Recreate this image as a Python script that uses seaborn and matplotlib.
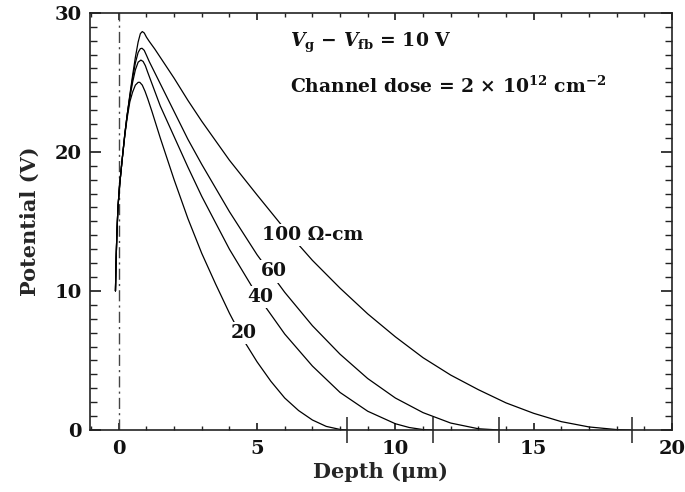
import numpy as np
import pandas as pd
import matplotlib
matplotlib.use("Agg")
import matplotlib.pyplot as plt
import seaborn as sns
from matplotlib.ticker import MultipleLocator

# --- data ---
x_100 = [-0.12, -0.1, -0.07, -0.03, 0.03, 0.12, 0.22, 0.3, 0.4, 0.5, 0.6, 0.7, 0.78, 0.85,
         0.92, 1.0, 1.1, 1.3, 1.6, 2.0, 2.5, 3.0, 4.0, 5.0, 6.0, 7.0, 8.0, 9.0, 10.0, 11.0,
         12.0, 13.0, 14.0, 15.0, 16.0, 17.0, 18.0, 18.5]
y_100 = [10.0, 12.0, 14.0, 16.0, 17.6, 19.4, 21.3, 22.6, 24.1, 25.5, 26.8, 27.9, 28.5, 28.65,
         28.55, 28.25, 27.95, 27.4, 26.5, 25.3, 23.7, 22.2, 19.4, 16.9, 14.45, 12.2, 10.2,
         8.35, 6.7, 5.2, 3.95, 2.9, 1.95, 1.2, 0.6, 0.22, 0.03, 0.0]

x_60 = [-0.12, -0.1, -0.07, -0.03, 0.03, 0.12, 0.22, 0.3, 0.4, 0.5, 0.6, 0.7, 0.78, 0.84,
        0.92, 1.0, 1.1, 1.4, 2.0, 2.5, 3.0, 4.0, 5.0, 6.0, 7.0, 8.0, 9.0, 10.0, 11.0, 12.0,
        13.0, 13.75]
y_60 = [10.0, 12.0, 14.0, 16.0, 17.6, 19.4, 21.3, 22.6, 24.0, 25.3, 26.4, 27.15, 27.42, 27.45,
        27.3, 26.95, 26.5, 25.3, 22.9, 20.9, 19.1, 15.7, 12.6, 9.9, 7.5, 5.45, 3.7, 2.3,
        1.25, 0.5, 0.09, 0.0]

x_40 = [-0.12, -0.1, -0.07, -0.03, 0.03, 0.12, 0.22, 0.3, 0.4, 0.5, 0.6, 0.7, 0.8, 0.88,
        0.96, 1.05, 1.2, 1.5, 2.0, 2.5, 3.0, 4.0, 5.0, 6.0, 7.0, 8.0, 9.0, 10.0, 10.5, 11.0,
        11.37]
y_40 = [10.0, 12.0, 14.0, 16.0, 17.6, 19.4, 21.3, 22.6, 23.9, 25.0, 25.9, 26.45, 26.6, 26.5,
        26.2, 25.7, 24.9, 23.3, 21.1, 18.9, 16.8, 13.0, 9.7, 6.9, 4.6, 2.7, 1.35, 0.45, 0.18,
        0.03, 0.0]

x_20 = [-0.12, -0.1, -0.07, -0.03, 0.03, 0.12, 0.22, 0.3, 0.4, 0.5, 0.6, 0.7, 0.76, 0.85,
        0.95, 1.05, 1.2, 1.5, 2.0, 2.5, 3.0, 3.5, 4.0, 4.5, 5.0, 5.5, 6.0, 6.5, 7.0, 7.5,
        8.0, 8.25]
y_20 = [10.0, 12.0, 14.0, 16.0, 17.6, 19.4, 21.2, 22.4, 23.6, 24.3, 24.8, 25.0, 25.0, 24.8,
        24.35, 23.8, 22.9, 21.0, 18.0, 15.2, 12.7, 10.5, 8.4, 6.5, 4.9, 3.5, 2.3, 1.4, 0.72,
        0.26, 0.04, 0.0]

depletion_edges = [8.25, 11.37, 13.75, 18.55]
curve_labels = ["100 Ω-cm", "60", "40", "20"]
label_x = [7.0, 5.6, 5.1, 4.5]
label_y = [14.0, 11.4, 9.55, 7.0]

frames = []
for name, xs, ys in [("100", x_100, y_100), ("60", x_60, y_60),
                     ("40", x_40, y_40), ("20", x_20, y_20)]:
    frames.append(pd.DataFrame({"depth": xs, "potential": ys, "rho": name}))
df = pd.concat(frames, ignore_index=True)

sns.set_theme(style="ticks")
plt.rcParams.update({
    "font.family": ["DejaVu Serif"],
    "font.weight": "bold",
    "mathtext.fontset": "dejavuserif",
    "mathtext.default": "bf",
    "axes.edgecolor": "#222222",
    "axes.linewidth": 1.2,
})

fig = plt.figure(figsize=(6.85, 4.92), dpi=100)
ax = fig.add_axes([0.131, 0.126, 0.850, 0.848])

sns.lineplot(data=df, x="depth", y="potential", hue="rho", units="rho",
             estimator=None, sort=False, palette=["black"] * 4,
             linewidth=0.9, legend=False, ax=ax)

ax.axvline(0, color="#444444", lw=1.0, linestyle=(0, (8, 3, 1.5, 3)), zorder=1)
ax.vlines(depletion_edges, -0.95, 0.95, color="#222222", lw=1.1, clip_on=False)

for t, tx, ty in zip(curve_labels, label_x, label_y):
    ax.text(tx, ty, t, ha="center", va="center", fontsize=13.5, fontweight="bold",
            color="#111111", bbox=dict(facecolor="white", edgecolor="none", pad=1.5),
            zorder=3)

ax.text(6.2, 27.8, r"$\mathbfit{V}_{\mathbf{g}}$ − $\mathbfit{V}_{\mathbf{fb}}$ = 10 V",
        fontsize=13.5, fontweight="bold", va="center", color="#111111")
ax.text(6.2, 24.75, r"Channel dose = 2 × 10$^{12}$ cm$^{-2}$", fontsize=13.5,
        fontweight="bold", va="center", color="#111111")

ax.set_xlim(-1.05, 20.0)
ax.set_ylim(0, 30)
ax.xaxis.set_major_locator(MultipleLocator(5))
ax.xaxis.set_minor_locator(MultipleLocator(1))
ax.yaxis.set_major_locator(MultipleLocator(10))
ax.yaxis.set_minor_locator(MultipleLocator(1))
ax.tick_params(axis="both", which="both", direction="in", top=True, right=True,
               labelsize=14, colors="#222222", labelcolor="#111111")
ax.tick_params(axis="x", which="major", length=5, pad=7)
ax.tick_params(axis="x", which="minor", length=3)
ax.tick_params(axis="y", which="major", length=8, pad=6)
ax.tick_params(axis="y", which="minor", length=5)

ax.set_xlabel("Depth (μm)", fontsize=15, fontweight="bold", labelpad=3)
ax.set_ylabel("Potential (V)", fontsize=15, fontweight="bold", labelpad=10)

fig.savefig("out.png", dpi=100)
